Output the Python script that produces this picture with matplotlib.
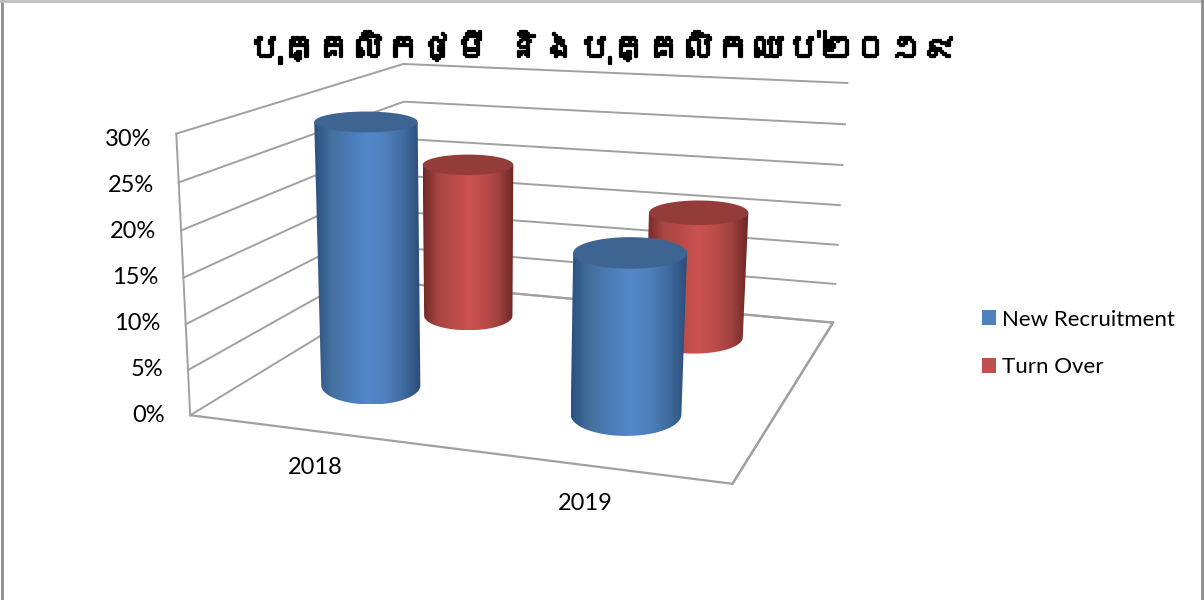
import numpy as np
import matplotlib
matplotlib.use("Agg")
import matplotlib.pyplot as plt
import matplotlib.patheffects as pe
from matplotlib import font_manager, ft2font
from matplotlib.colors import LinearSegmentedColormap
from matplotlib.patches import Patch, Polygon

title = "បុគ្គលិកថ្មី និងបុគ្គលិកឈប់២០១៩"
categories = ["2018", "2019"]
series_names = ["New Recruitment", "Turn Over"]
new_recruitment = [29.5, 17.5]
turn_over = [19.5, 15.5]
y_ticks = [0, 5, 10, 15, 20, 25, 30]

# floor position of each category / series, 0-1 across the plot box
cat_x = [0.238, 0.745]
series_depth = [0.27, 0.79]
radius_x = 0.104
radius_y = 0.125

blue_cols = ["#2c5180", "#44719f", "#4a7cb6", "#5487c9", "#4f80bd", "#3f6ca0", "#2b4d78"]
red_cols = ["#702826", "#a84644", "#b84b49", "#cb5250", "#bd4c4a", "#a04240", "#6c2725"]
blue_top = "#3e6592"
red_top = "#943c3a"
blue_flat = "#4f81bd"
red_flat = "#c0504d"
grid_col = "#a0a0a0"

plt.rcParams["font.family"] = ["Lato", "DejaVu Sans"]

# the title needs a font with Khmer in it
title_family = ["DejaVu Sans"]
for f in font_manager.fontManager.ttflist:
    try:
        if 0x1780 in ft2font.FT2Font(f.fname).get_charmap():
            title_family = [f.name, "DejaVu Sans"]
            break
    except Exception:
        pass

# corners of the 3d box on the picture: (x, depth, value) -> pixel
world = [(0, 0, 0), (0, 0, 30), (0, 1, 30), (0, 1, 0), (1, 1, 0), (1, 1, 30), (1, 0, 0)]
pixels = [(190, 412), (176, 135), (404, 62), (406, 287), (833, 320), (847, 84), (733, 486)]


def fit_camera(world, pixels):
    rows = []
    rhs = []
    for (x, y, z), (u, v) in zip(world, pixels):
        rows.append([x, y, z, 1, 0, 0, 0, 0, -u * x, -u * y, -u * z])
        rows.append([0, 0, 0, 0, x, y, z, 1, -v * x, -v * y, -v * z])
        rhs += [u, v]
    m = np.linalg.lstsq(np.array(rows, float), np.array(rhs, float), rcond=None)[0]
    return np.append(m, 1).reshape(3, 4)


camera = fit_camera(world, pixels)


def proj(x, y, z):
    x, y, z = np.broadcast_arrays(x, y, z)
    p = camera @ np.array([x, y, z, np.ones(x.shape)], float)
    return p[0] / p[2], p[1] / p[2]


def level_ellipse(x, y, z):
    # centre, half width and half height of the disc at this height, kept level on screen
    cx, cy = proj(x, y, z)
    x0 = proj(x - radius_x, y, z)[0]
    x1 = proj(x + radius_x, y, z)[0]
    y0 = proj(x, y - radius_y, z)[1]
    y1 = proj(x, y + radius_y, z)[1]
    return float(cx), float(cy), float(x1 - x0) / 2, float(y0 - y1) / 2


def draw_cylinder(ax, x, y, value, cols, top_col):
    tcx, tcy, tw, th = level_ellipse(x, y, value)
    bcx, bcy, bw, bh = level_ellipse(x, y, 0)

    # right side down, round the front of the base, left side up
    t = np.linspace(0, np.pi, 91)
    base = np.column_stack([bcx + bw * np.cos(t), bcy + bh * np.sin(t)])
    outline = np.vstack([[tcx + tw, tcy], base, [tcx - tw, tcy]])
    body = Polygon(outline, closed=True, fc="none", ec="none", zorder=3)
    ax.add_patch(body)

    cmap = LinearSegmentedColormap.from_list("cyl", cols)
    left = outline[:, 0].min()
    right = outline[:, 0].max()
    im = ax.imshow(np.linspace(0, 1, 200).reshape(1, -1), cmap=cmap, aspect="auto",
                   extent=(left, right, bcy + bh, tcy), zorder=3, interpolation="bilinear")
    im.set_clip_path(body)

    t = np.linspace(0, 2 * np.pi, 181)
    top = np.column_stack([tcx + tw * np.cos(t), tcy + th * np.sin(t)])
    ax.add_patch(Polygon(top, closed=True, fc=top_col, ec="none", zorder=3))


fig = plt.figure(figsize=(12.04, 6), dpi=100)
ax = fig.add_axes([0, 0, 1, 1])

# walls and gridlines
for v in y_ticks:
    xs, ys = proj([0, 0, 1], [0, 1, 1], v)
    ax.plot(xs, ys, color=grid_col, lw=1.4, zorder=1)
    lx = proj(0, 0, v)[0]
    ax.text(lx - 25, 416 - v * 9.2, "%d%%" % v, ha="right", va="center", fontsize=17, color="black")

xs, ys = proj([0, 0], [0, 0], [0, 30])
ax.plot(xs, ys, color=grid_col, lw=1.4, zorder=1)
xs, ys = proj([0, 1, 1, 0], [0, 0, 1, 1], 0)
ax.plot(xs, ys, color=grid_col, lw=1.6, zorder=1)
xs, ys = proj([1, 1], [0, 1], 0)
ax.plot(xs, ys, color=grid_col, lw=1.6, zorder=1)

# back row first so the front row covers it
for i in range(len(categories)):
    draw_cylinder(ax, cat_x[i], series_depth[1], turn_over[i], red_cols, red_top)
for i in range(len(categories)):
    draw_cylinder(ax, cat_x[i], series_depth[0], new_recruitment[i], blue_cols, blue_top)

ax.text(315, 468, categories[0], ha="center", va="center", fontsize=17)
ax.text(585, 504, categories[1], ha="center", va="center", fontsize=17)

t = ax.text(603, 47, title, ha="center", va="center", fontsize=25, color="black",
            family=title_family, zorder=5)
t.set_path_effects([pe.withStroke(linewidth=1.6, foreground="black")])

handles = [Patch(fc=blue_flat, ec="none"), Patch(fc=red_flat, ec="none")]
ax.legend(handles, series_names, loc="upper left", bbox_to_anchor=(975, 303), bbox_transform=ax.transData,
          frameon=False, fontsize=16, handlelength=0.65, handleheight=0.65, handletextpad=0.28,
          labelspacing=1.25, borderpad=0.3, borderaxespad=0)

# outer frame of the chart
ax.plot([2, 2], [0, 600], color="#8c8c8c", lw=2)
ax.plot([0, 1204], [0.5, 0.5], color="#bdbdbd", lw=2)
ax.plot([1202, 1202], [0, 600], color="#8c8c8c", lw=2)

ax.set_xlim(0, 1204)
ax.set_ylim(600, 0)
ax.axis("off")
fig.savefig("out.png", dpi=100)
